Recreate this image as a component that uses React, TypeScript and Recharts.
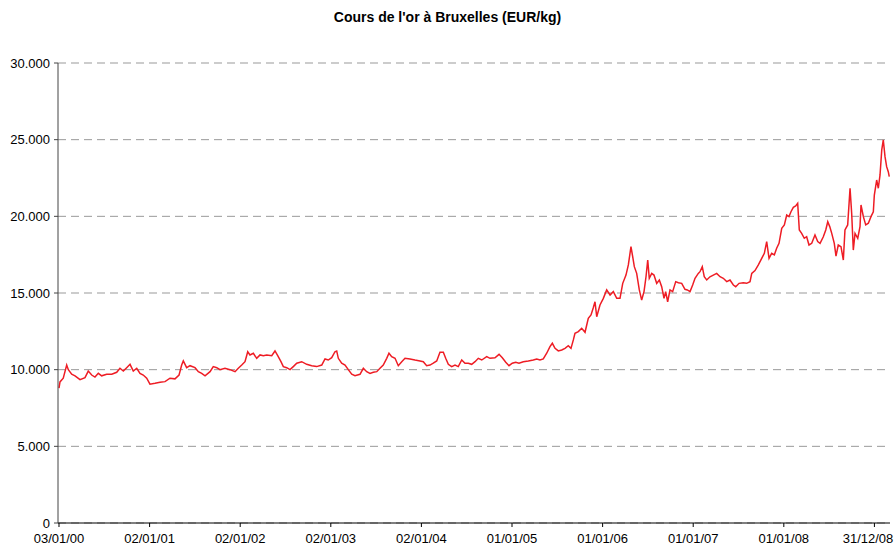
import { CartesianGrid, Line, LineChart, XAxis, YAxis } from "recharts";

// Gold price in Brussels, EUR/kg. Time is in years since 03/01/2000.
const years = [
  0, 0.011, 0.047, 0.085, 0.103, 0.14, 0.177, 0.232, 0.287, 0.323, 0.361, 0.397,
  0.434, 0.471, 0.526, 0.582, 0.637, 0.673, 0.71, 0.747, 0.784, 0.82, 0.858, 0.894,
  0.93, 0.968, 1.004, 1.06, 1.115, 1.17, 1.225, 1.28, 1.325, 1.354, 1.372, 1.409,
  1.446, 1.501, 1.538, 1.575, 1.612, 1.667, 1.703, 1.741, 1.777, 1.832, 1.887, 1.943,
  1.979, 2.017, 2.053, 2.083, 2.108, 2.145, 2.182, 2.219, 2.255, 2.293, 2.348, 2.384,
  2.414, 2.45, 2.476, 2.513, 2.55, 2.586, 2.624, 2.679, 2.734, 2.789, 2.844, 2.9,
  2.936, 2.972, 3.01, 3.046, 3.065, 3.083, 3.12, 3.157, 3.193, 3.231, 3.267, 3.322,
  3.359, 3.396, 3.433, 3.469, 3.507, 3.543, 3.579, 3.617, 3.642, 3.672, 3.709, 3.745,
  3.783, 3.819, 3.874, 3.929, 3.985, 4.021, 4.058, 4.095, 4.131, 4.169, 4.205, 4.242,
  4.268, 4.297, 4.334, 4.371, 4.407, 4.445, 4.481, 4.518, 4.555, 4.592, 4.628, 4.666,
  4.721, 4.757, 4.812, 4.857, 4.893, 4.931, 4.967, 5.003, 5.041, 5.077, 5.125, 5.18,
  5.235, 5.273, 5.309, 5.345, 5.383, 5.419, 5.445, 5.475, 5.511, 5.549, 5.585, 5.621,
  5.651, 5.677, 5.695, 5.732, 5.769, 5.806, 5.842, 5.872, 5.897, 5.916, 5.935, 5.971,
  6.008, 6.045, 6.082, 6.118, 6.156, 6.192, 6.222, 6.258, 6.284, 6.313, 6.332, 6.35,
  6.376, 6.405, 6.431, 6.457, 6.479, 6.498, 6.515, 6.542, 6.567, 6.597, 6.626, 6.652,
  6.678, 6.696, 6.718, 6.744, 6.773, 6.807, 6.836, 6.873, 6.909, 6.935, 6.965, 6.994,
  7.02, 7.056, 7.075, 7.1, 7.122, 7.149, 7.185, 7.222, 7.259, 7.296, 7.332, 7.37,
  7.406, 7.443, 7.469, 7.506, 7.553, 7.59, 7.627, 7.646, 7.682, 7.719, 7.756, 7.785,
  7.811, 7.837, 7.866, 7.895, 7.921, 7.947, 7.977, 8.006, 8.032, 8.057, 8.079, 8.105,
  8.131, 8.153, 8.171, 8.197, 8.226, 8.252, 8.278, 8.308, 8.344, 8.374, 8.4, 8.436,
  8.463, 8.485, 8.507, 8.529, 8.557, 8.576, 8.601, 8.631, 8.657, 8.675, 8.705, 8.731,
  8.749, 8.767, 8.786, 8.816, 8.841, 8.852, 8.878, 8.904, 8.933, 8.962, 8.988, 8.999,
  9.025, 9.043, 9.062, 9.081, 9.098, 9.117, 9.135, 9.153, 9.164,
];

const prices = [
  8800, 9200, 9440, 10300, 10000, 9700, 9600, 9350, 9480, 9910, 9650, 9520,
  9760, 9600, 9700, 9700, 9830, 10090, 9910, 10130, 10350, 9910, 10090, 9760,
  9650, 9440, 9050, 9110, 9180, 9220, 9440, 9400, 9650, 10300, 10570, 10130,
  10260, 10130, 9870, 9760, 9600, 9870, 10200, 10130, 10000, 10090, 10000, 9870,
  10090, 10300, 10520, 11170, 10960, 11070, 10740, 10960, 10910, 10960, 10910, 11220,
  10910, 10520, 10200, 10130, 10000, 10200, 10420, 10520, 10350, 10260, 10200, 10300,
  10700, 10630, 10780, 11170, 11220, 10740, 10420, 10300, 10000, 9700, 9600, 9700,
  10090, 9870, 9760, 9830, 9870, 10090, 10300, 10740, 11070, 10850, 10740, 10260,
  10520, 10740, 10700, 10630, 10570, 10520, 10260, 10300, 10420, 10570, 11130, 11130,
  10740, 10350, 10200, 10300, 10200, 10630, 10420, 10420, 10350, 10520, 10740, 10630,
  10850, 10740, 10780, 11000, 10780, 10480, 10260, 10420, 10480, 10420, 10520, 10570,
  10630, 10700, 10630, 10700, 11070, 11500, 11720, 11390, 11220, 11280, 11390, 11560,
  11390, 11940, 12370, 12480, 12700, 12440, 13350, 13570, 14040, 14430, 13450, 14220,
  14650, 15200, 14870, 15090, 14650, 14650, 15630, 16170, 16830, 18020, 17370, 16720,
  16280, 15200, 14540, 15090, 16060, 17150, 15960, 16280, 16170, 15630, 15850, 15410,
  14650, 15090, 14430, 15200, 15090, 15740, 15670, 15630, 15240, 15200, 15090, 15520,
  15960, 16280, 16390, 16720, 16060, 15850, 16060, 16170, 16280, 16060, 15960, 15740,
  15850, 15520, 15410, 15630, 15670, 15630, 15740, 16280, 16460, 16830, 17260, 17590,
  18350, 17260, 17590, 17480, 17920, 18240, 19220, 19440, 20090, 19980, 20300, 20590,
  20680, 20850, 19110, 18890, 18570, 18670, 18130, 18240, 18780, 18350, 18240, 18670,
  19110, 19650, 19330, 18890, 18240, 17410, 18130, 18020, 17150, 19110, 19440, 21830,
  20200, 17800, 18890, 18570, 19330, 20740, 19980, 19440, 19550, 19980, 20300, 21390,
  22370, 21830, 22700, 24330, 24980, 23890, 23240, 22910, 22590,
];

const tickYears = [0, 1, 2, 3, 4, 5, 6, 7, 8, 9];
const tickLabels = [
  "03/01/00", "02/01/01", "02/01/02", "02/01/03", "02/01/04",
  "01/01/05", "01/01/06", "01/01/07", "01/01/08", "31/12/08",
];
const priceTicks = [0, 5000, 10000, 15000, 20000, 25000, 30000];

const data = years.map((t, i) => ({ t, price: prices[i] }));

const fmtPrice = (v: number) =>
  String(v).replace(/\B(?=(\d{3})+(?!\d))/g, ".");

// date labels are centred on their tick, but the last one is kept inside the frame
function DateTick({ x, y, payload }: any) {
  const half = 26;
  const cx = Math.min(x, 894 - half);
  return (
    <text x={cx} y={y} dy="0.71em" textAnchor="middle" fill="#000" fontSize={13}>
      {tickLabels[payload.value]}
    </text>
  );
}

export default function App() {
  return (
    <div
      style={{
        position: "absolute",
        left: 0,
        top: 0,
        width: 895,
        height: 547,
        background: "#fff",
        fontFamily: '"Liberation Sans", Arial, sans-serif',
      }}
    >
      <div
        style={{
          position: "absolute",
          top: 9,
          left: 0,
          width: 895,
          textAlign: "center",
          fontWeight: "bold",
          fontSize: 14,
          color: "#000",
        }}
      >
        Cours de l'or à Bruxelles (EUR/kg)
      </div>
      <LineChart
        width={895}
        height={547}
        data={data}
        margin={{ top: 63, right: 5, bottom: 0, left: 0 }}
      >
        <CartesianGrid vertical={false} stroke="#999" strokeDasharray="8 5" />
        <XAxis
          type="number"
          dataKey="t"
          domain={[-0.011, 9.172]}
          allowDataOverflow
          ticks={tickYears}
          interval={0}
          height={24}
          tickSize={4}
          tickMargin={7}
          tick={<DateTick />}
          axisLine={{ stroke: "#000" }}
          tickLine={{ stroke: "#000" }}
        />
        <YAxis
          domain={[0, 30000]}
          ticks={priceTicks}
          interval={0}
          tickFormatter={fmtPrice}
          width={58}
          tickSize={4}
          tickMargin={4}
          tick={{ fill: "#000", fontSize: 13 }}
          axisLine={{ stroke: "#444" }}
          tickLine={{ stroke: "#444" }}
        />
        <YAxis
          yAxisId="frame"
          orientation="right"
          width={0}
          tick={false}
          tickLine={false}
          axisLine={{ stroke: "#999" }}
        />
        <Line
          type="linear"
          dataKey="price"
          stroke="#ee1c24"
          strokeWidth={1.5}
          dot={false}
          isAnimationActive={false}
        />
      </LineChart>
    </div>
  );
}
